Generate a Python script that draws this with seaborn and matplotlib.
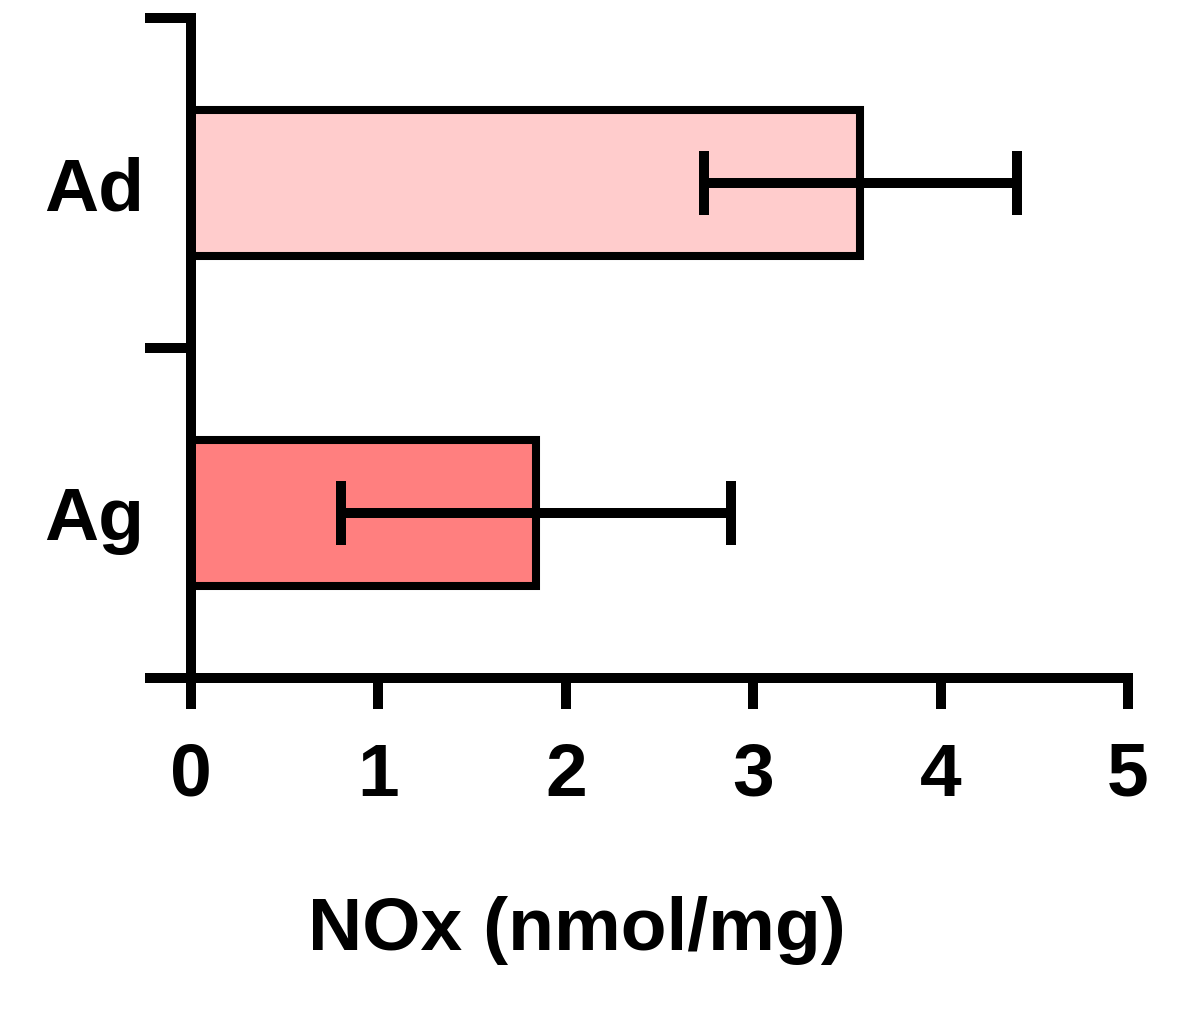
import matplotlib
matplotlib.use("Agg")
import matplotlib.pyplot as plt
import seaborn as sns
import pandas as pd

categories = ["Ad", "Ag"]
means = [3.57, 1.84]
sds = [0.835, 1.04]
colors = ["#FFCCCC", "#FF7F7F"]

sns.set_theme(style="ticks")
plt.rcParams["font.family"] = ["Liberation Sans", "DejaVu Sans"]
plt.rcParams["font.weight"] = "bold"

df = pd.DataFrame({"cat": categories, "val": means})

fig = plt.figure(figsize=(12, 10.29), dpi=100)
ax = fig.add_axes([0.1592, 0.3411, 0.7808, 0.6414])

sns.barplot(data=df, x="val", y="cat", hue="cat", palette=colors, orient="h",
            width=0.445, edgecolor="black", linewidth=5.8, legend=False, ax=ax,
            errorbar=None, saturation=1)

ax.errorbar(means, range(len(categories)), xerr=sds, fmt="none", ecolor="black",
            elinewidth=7.2, capsize=23, capthick=7.2, zorder=5)

ax.set_xlim(0, 5)
ax.set_ylim(1.5, -0.5)
ax.set_xticks([0, 1, 2, 3, 4, 5])
ax.set_yticks([-0.5, 0.5, 1.5])
ax.set_yticklabels([])
ax.set_yticks([0, 1], minor=True)
ax.set_yticklabels(categories, minor=True)

for s in ["top", "right"]:
    ax.spines[s].set_visible(False)
for s in ["left", "bottom"]:
    ax.spines[s].set_linewidth(7.2)
    ax.spines[s].set_color("black")

ax.tick_params(axis="x", which="major", direction="out", length=22, width=7.2,
               pad=24, labelsize=54, colors="black")
ax.tick_params(axis="y", which="major", direction="out", length=33, width=7.2,
               colors="black")
ax.tick_params(axis="y", which="minor", length=0, pad=34, labelsize=54,
               labelcolor="black")
for lab in ax.get_xticklabels() + ax.get_yticklabels(minor=True):
    lab.set_fontweight("bold")

ax.set_ylabel("")
ax.set_xlabel("NOx (nmol/mg)", fontsize=54, fontweight="bold", color="black")
ax.xaxis.set_label_coords(0.412, -0.382, transform=ax.transAxes)
ax.xaxis.label.set_verticalalignment("center")

fig.savefig("out.png", dpi=100)
